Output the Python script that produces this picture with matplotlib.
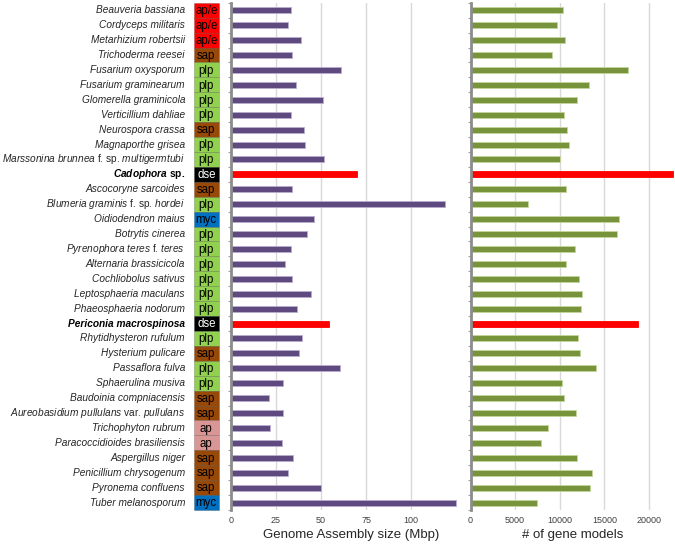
import numpy as np
import matplotlib.pyplot as plt
from matplotlib.patches import Rectangle

plt.rcParams['font.family'] = ['Liberation Sans', 'DejaVu Sans']
plt.rcParams['mathtext.fontset'] = 'custom'
plt.rcParams['mathtext.rm'] = 'Liberation Sans'
plt.rcParams['mathtext.it'] = 'Liberation Sans:italic'
plt.rcParams['mathtext.bf'] = 'Liberation Sans:bold'
plt.rcParams['mathtext.bfit'] = 'Liberation Sans:italic:bold'

# --- data (top to bottom) ---
species = [
    'Beauveria bassiana', 'Cordyceps militaris', 'Metarhizium robertsii',
    'Trichoderma reesei', 'Fusarium oxysporum', 'Fusarium graminearum',
    'Glomerella graminicola', 'Verticillium dahliae', 'Neurospora crassa',
    'Magnaporthe grisea',
    r'$\it{Marssonina\ brunnea}$ f. sp. $\it{multigermtubi}$',
    r'$\mathbfit{Cadophora}$ sp.',
    'Ascocoryne sarcoides',
    r'$\it{Blumeria\ graminis}$ f. sp. $\it{hordei}$',
    'Oidiodendron maius', 'Botrytis cinerea',
    r'$\it{Pyrenophora\ teres}$ f. $\it{teres}$',
    'Alternaria brassicicola', 'Cochliobolus sativus',
    'Leptosphaeria maculans', 'Phaeosphaeria nodorum',
    'Periconia macrospinosa',
    'Rhytidhysteron rufulum', 'Hysterium pulicare', 'Passaflora fulva',
    'Sphaerulina musiva', 'Baudoinia compniacensis',
    r'$\it{Aureobasidium\ pullulans}$ var. $\it{pullulans}$',
    'Trichophyton rubrum', 'Paracoccidioides brasiliensis',
    'Aspergillus niger', 'Penicillium chrysogenum', 'Pyronema confluens',
    'Tuber melanosporum',
]
lifestyle = ['ap/e', 'ap/e', 'ap/e', 'sap', 'plp', 'plp', 'plp', 'plp', 'sap',
             'plp', 'plp', 'dse', 'sap', 'plp', 'myc', 'plp', 'plp', 'plp',
             'plp', 'plp', 'plp', 'dse', 'plp', 'sap', 'plp', 'plp', 'sap',
             'sap', 'ap', 'ap', 'sap', 'sap', 'sap', 'myc']
genome_size = [33.2, 31.8, 38.7, 33.7, 60.9, 35.9, 51.1, 33.3, 40.6, 41.3,
               51.5, 70.2, 33.7, 118.7, 46.1, 42.2, 33.1, 29.8, 33.9, 44.4,
               36.9, 54.4, 39.6, 37.9, 60.7, 28.9, 21.3, 29.1, 21.9, 28.5,
               34.3, 31.7, 49.8, 124.8]
gene_models = [10340, 9660, 10560, 9100, 17690, 13280, 11970, 10520, 10780,
               11040, 10030, 22670, 10670, 6480, 16680, 16420, 11750, 10670,
               12200, 12470, 12350, 18740, 12080, 12310, 14100, 10220, 10520,
               11830, 8690, 7870, 11900, 13650, 13360, 7490]
highlight = ['Cadophora', 'Periconia']

box_colors = {'ap/e': '#FF0000', 'sap': '#984807', 'plp': '#92D050',
              'myc': '#0070C0', 'dse': '#000000', 'ap': '#D99694'}

n = len(species)
y = np.arange(n)
is_hl = [any(h in s for h in highlight) for s in species]

W, H = 675, 545
fig = plt.figure(figsize=(W / 100, H / 100), dpi=100)
top, bot = 2.8, 510
ax1 = fig.add_axes([231 / W, (H - bot) / H, (470.5 - 231) / W, (bot - top) / H])
ax2 = fig.add_axes([470.5 / W, (H - bot) / H, (674 - 470.5) / W, (bot - top) / H])


def style(ax, xmax, ticks, label):
    ax.set_ylim(n - 0.5, -0.5)
    ax.set_xlim(0, xmax)
    ax.set_xticks(ticks)
    ax.set_xticklabels([str(t) for t in ticks])
    ax.set_yticks([])
    ax.set_yticks(np.arange(n + 1) - 0.5, minor=True)
    ax.tick_params(axis='y', which='minor', length=2.5, color='#A0A0A0', width=0.8)
    ax.tick_params(axis='x', length=0, labelsize=6.5, labelcolor='#404040', pad=4)
    ax.grid(axis='x', color='#D9D9D9', linewidth=1)
    ax.set_axisbelow(True)
    for s in ['top', 'right', 'bottom']:
        ax.spines[s].set_visible(False)
    ax.spines['left'].set_color('#8C8C8C')
    ax.spines['left'].set_linewidth(2)
    ax.set_xlabel(label, fontsize=9.5, labelpad=3, color='#262626')


purple = ['#FF0000' if h else '#5F4A7F' for h in is_hl]
pedge = ['#FF0000' if h else '#B9ADCF' for h in is_hl]
green = ['#FF0000' if h else '#77933C' for h in is_hl]
gedge = ['#FF0000' if h else '#C4D79B' for h in is_hl]

ax1.barh(y, genome_size, height=0.4, color=purple, edgecolor=pedge, linewidth=0.6)
ax2.barh(y, gene_models, height=0.4, color=green, edgecolor=gedge, linewidth=0.6)
style(ax1, 133, [0, 25, 50, 75, 100], 'Genome Assembly size (Mbp)')
style(ax2, 22800, [0, 5000, 10000, 15000, 20000], '# of gene models')

# species names and lifestyle boxes
trans = ax1.get_yaxis_transform()
ax_w = 470.5 - 231
bx0 = (194 - 231) / ax_w
bw = 24.5 / ax_w
for i, (name, ls) in enumerate(zip(species, lifestyle)):
    kw = dict(fontsize=7.3, ha='right', va='center', transform=trans,
              color='#262626')
    if is_hl[i]:
        kw['fontweight'] = 'bold'
        kw['color'] = 'black'
    if '$' not in name:
        kw['fontstyle'] = 'italic'
    ax1.text((185 - 231) / ax_w, i, name, **kw)
    ax1.add_patch(Rectangle((bx0, i - 0.5), bw, 1, transform=trans,
                            facecolor=box_colors[ls], edgecolor=(0, 0, 0, 0.25),
                            linewidth=0.5, clip_on=False))
    ax1.text(bx0 + bw / 2, i + 0.05, ls, transform=trans, ha='center', va='center',
             fontsize=8.3, color='white' if ls == 'dse' else 'black')

fig.savefig('out.png', dpi=100)
